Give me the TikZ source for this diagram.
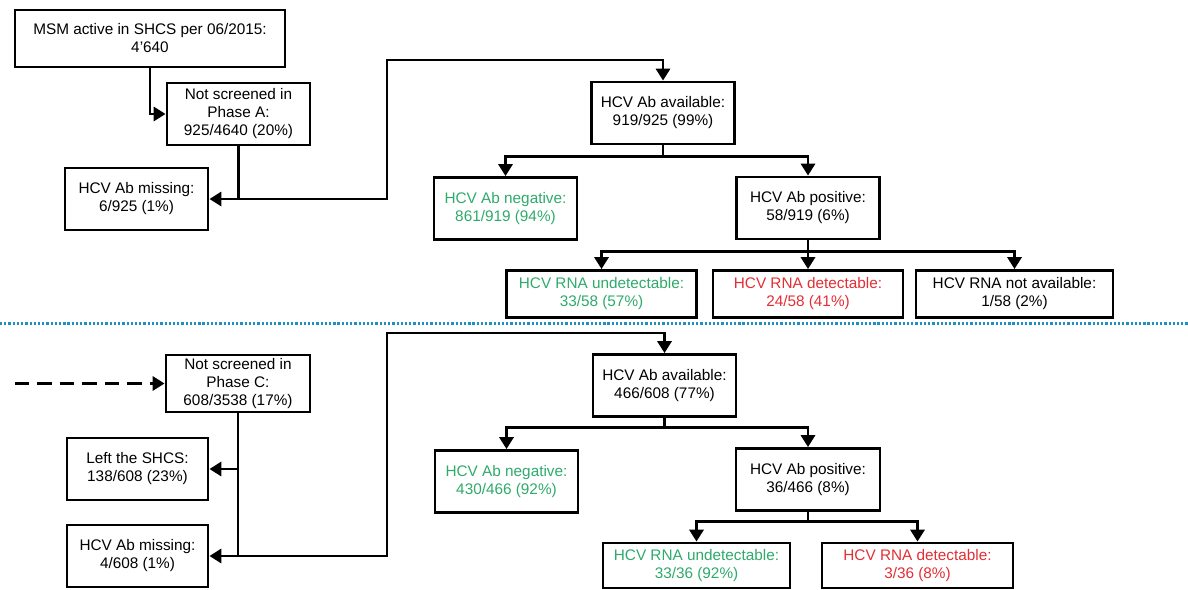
\documentclass[tikz,border=0pt]{standalone}
\usepackage{fontspec}
\setmainfont{Liberation Sans}
\usepackage{tikz}
\usetikzlibrary{arrows.meta}

\definecolor{hcvgreen}{RGB}{46,170,106}
\definecolor{hcvred}{RGB}{226,46,52}
\definecolor{hcvblue}{RGB}{30,145,195}

\begin{document}
\begin{tikzpicture}[x=0.025cm,y=-0.025cm,
  box/.style={draw,line width=2pt,align=center,inner sep=0pt,
    minimum width=3.575cm,minimum height=1.55cm,
    font=\fontsize{10.9}{12.8}\selectfont},
  rna/.style={box,minimum width=4.75cm,minimum height=1.175cm},
  link/.style={line width=2.1pt,-{Triangle[length=8.5pt,width=10pt]}},
  neg/.style={text=hcvgreen},
  det/.style={text=hcvred}]
  \useasboundingbox (0,0) rectangle (1188,590);
  % Phase A
  \node[box,minimum width=6.75cm,minimum height=1.425cm] (A-1) at (150,38.5) {MSM active in SHCS per 06/2015:\\4’640};
  \node[box] (A-2) at (238.5,114) {Not screened in\\Phase A:\\925/4640 (20\%)};
  \node[box] (A-3) at (136.5,199) {HCV Ab missing:\\6/925 (1\%)};
  \node[box] (A-4) at (663,113) {HCV Ab available:\\919/925 (99\%)};
  \node[box,neg] (A-5) at (505.5,208.5) {HCV Ab negative:\\861/919 (94\%)};
  \node[box] (A-6) at (808,208) {HCV Ab positive:\\58/919 (6\%)};
  \node[rna,neg] (A-7) at (601.5,294) {HCV RNA undetectable:\\33/58 (57\%)};
  \node[rna,det] (A-8) at (808,294) {HCV RNA detectable:\\24/58 (41\%)};
  \node[rna,minimum width=4.925cm] (A-9) at (1014.5,294) {HCV RNA not available:\\1/58 (2\%)};
  \coordinate (A-turn) at (387,60);
  \draw[link] (A-1.south) |- (A-2.west);
  \draw[link] (A-2.south) |- (A-3.east);
  \draw[link] (A-2.south |- A-3.east) -| (A-turn) -| (A-4.north);
  \draw[link] (A-4.south) -- ++(0,11) -| (A-5.north);
  \draw[link] (A-4.south) -- ++(0,11) -| (A-6.north);
  \draw[link] (A-6.south) -- ++(0,11) -| (A-7.north);
  \draw[link] (A-6.south) -- (A-8.north);
  \draw[link] (A-6.south) -- ++(0,11) -| (A-9.north);

  % separator
  \coordinate (sep-l) at (0,323.5);
  \coordinate (sep-r) at (1188,323.5);
  \draw[hcvblue,line width=1.8pt,dash pattern=on 1.6pt off 1.4pt] (sep-l) -- (sep-r);

  % Phase C
  \coordinate (C-from) at (15,383.5);
  \node[box,minimum width=3.6cm,minimum height=1.425cm] (C-1) at (238,383.5) {Not screened in\\Phase C:\\608/3538 (17\%)};
  \node[box,minimum width=3.525cm] (C-2) at (137.5,469) {Left the SHCS:\\138/608 (23\%)};
  \node[box,minimum width=3.525cm] (C-3) at (137.5,556) {HCV Ab missing:\\4/608 (1\%)};
  \node[box] (C-4) at (664.5,385.5) {HCV Ab available:\\466/608 (77\%)};
  \node[box,neg] (C-5) at (506.5,481.5) {HCV Ab negative:\\430/466 (92\%)};
  \node[box,minimum width=3.6cm] (C-6) at (808,479.5) {HCV Ab positive:\\36/466 (8\%)};
  \node[rna,neg,minimum width=4.675cm,minimum height=1.125cm] (C-7) at (696.5,565.5) {HCV RNA undetectable:\\33/36 (92\%)};
  \node[rna,det,minimum width=4.775cm,minimum height=1.125cm] (C-8) at (917.5,565.5) {HCV RNA detectable:\\3/36 (8\%)};
  \coordinate (C-turn) at (387,333);
  \draw[link,dash pattern=on 10pt off 6pt] (C-from) -- (C-1.west);
  \draw[link] (C-1.south) |- (C-2.east);
  \draw[link] (C-1.south) |- (C-3.east);
  \draw[link] (C-1.south |- C-3.east) -| (C-turn) -| (C-4.north);
  \draw[link] (C-4.south) -- ++(0,10) -| (C-5.north);
  \draw[link] (C-4.south) -- ++(0,10) -| (C-6.north);
  \draw[link] (C-6.south) -- ++(0,10) -| (C-7.north);
  \draw[link] (C-6.south) -- ++(0,10) -| (C-8.north);
\end{tikzpicture}
\end{document}
